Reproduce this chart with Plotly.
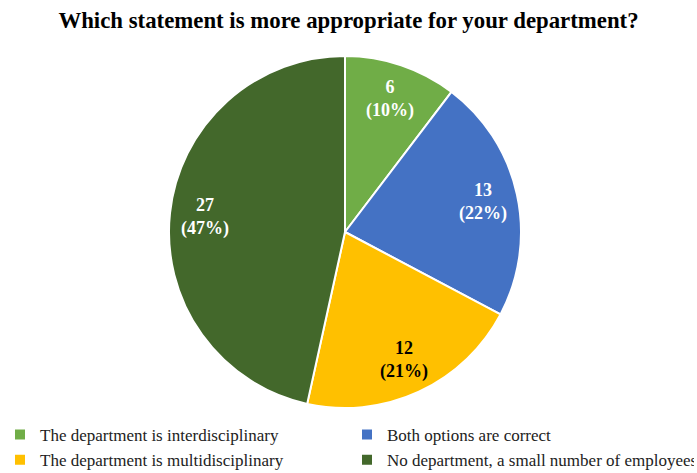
import math
import plotly.graph_objects as go

labels = ["The department is interdisciplinary", "Both options are correct",
          "The department is multidisciplinary", "No department, a small number of employees"]
values = [6, 13, 12, 27]
colors = ["#70AD47", "#4472C4", "#FFC000", "#43682B"]
text_colors = ["white", "white", "black", "white"]
title_text = "Which statement is more appropriate for your department?"

W, H = 697, 473
cx, cy, r = 345, 232, 176
label_r = 0.8  # data labels sit at 80% of the radius, as in the original

fig = go.Figure(go.Pie(
    labels=labels, values=values, sort=False, direction="clockwise", rotation=0,
    marker=dict(colors=colors, line=dict(color="white", width=2)),
    textinfo="none",
    domain=dict(x=[(cx - r) / W, (cx + r) / W], y=[1 - (cy + r) / H, 1 - (cy - r) / H]),
    hoverinfo="label+value+percent",
))

# data labels placed along each slice's mid-angle, computed from the values
total = sum(values)
cum = 0
for v, tc in zip(values, text_colors):
    mid = (cum + v / 2) / total * 2 * math.pi
    cum += v
    px = cx + label_r * r * math.sin(mid)
    py = cy - label_r * r * math.cos(mid)
    pct = round(100 * v / total)
    fig.add_annotation(
        x=px / W, y=1 - py / H, xref="paper", yref="paper",
        xanchor="center", yanchor="middle", showarrow=False,
        text=f"<b>{v}<br>({pct}%)</b>",
        font=dict(family="Liberation Serif", size=18, color=tc),
    )

fig.update_layout(
    width=W, height=H,
    margin=dict(l=0, r=0, t=0, b=0, autoexpand=False),
    paper_bgcolor="white", plot_bgcolor="white",
    font=dict(family="Liberation Serif", color="black"),
    title=dict(text="<b>" + title_text + "</b>", x=0.5, xanchor="center",
               y=1 - 20 / H, yanchor="middle", yref="container",
               font=dict(size=22.8, family="Liberation Serif", color="black")),
    legend=dict(orientation="h", x=0, xanchor="left", y=1 - 417 / H, yanchor="top",
                entrywidth=302, entrywidthmode="pixels", itemwidth=30,
                font=dict(size=17, family="Liberation Serif", color="#222"),
                traceorder="normal", tracegroupgap=0),
)

fig.write_html("out.html", post_script="document.body.style.margin='0';",
               config={"displayModeBar": False})
